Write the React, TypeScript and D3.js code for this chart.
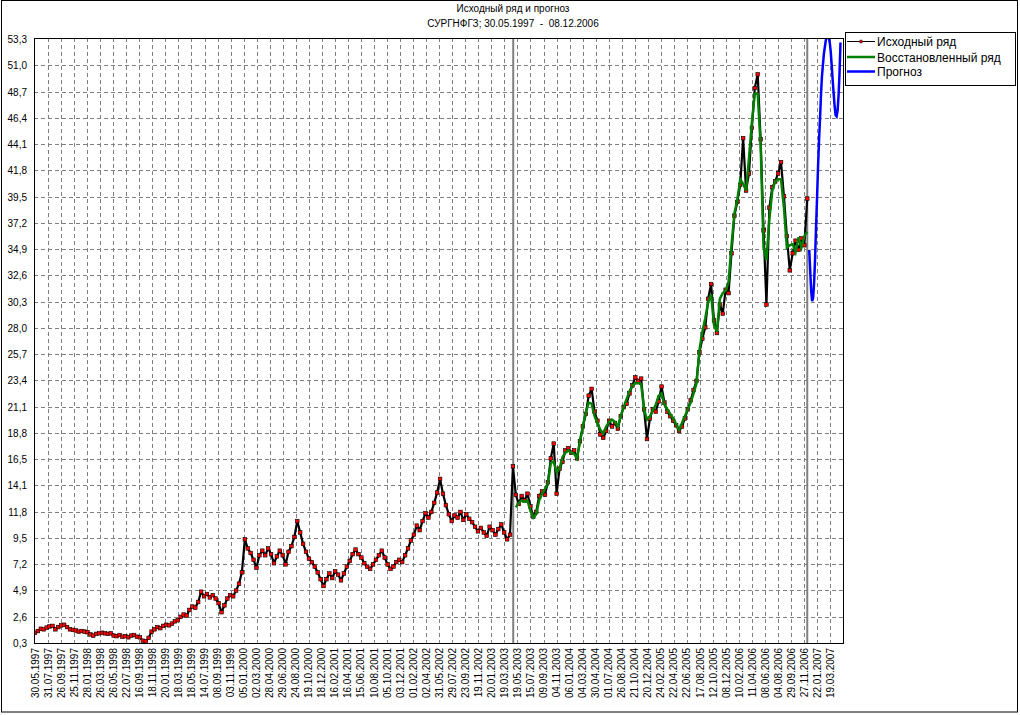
import React from 'react';
import * as d3 from 'd3';

const TITLE = 'Исходный ряд и прогноз';
const SUBTITLE = 'СУРГНФГЗ; 30.05.1997  -  08.12.2006';
const SERIES_NAMES = ['Исходный ряд', 'Восстановленный ряд', 'Прогноз'];

const Y_MIN = 0.3;
const Y_MAX = 53.3;
const Y_TICK_LABELS = ['0,3', '2,6', '4,9', '7,2', '9,5', '11,8', '14,1', '16,5', '18,8', '21,1', '23,4', '25,7',
  '28,0', '30,3', '32,6', '34,9', '37,2', '39,5', '41,8', '44,1', '46,4', '48,7', '51,0', '53,3'];

const TICK_STEP_DAYS = 40;
const X_TICK_LABELS = [
  '30.05.1997', '31.07.1997', '26.09.1997', '25.11.1997', '28.01.1998', '26.03.1998', '26.05.1998', '22.07.1998',
  '16.09.1998', '18.11.1998', '20.01.1999', '18.03.1999', '18.05.1999', '14.07.1999', '08.09.1999', '03.11.1999',
  '05.01.2000', '02.03.2000', '28.04.2000', '29.06.2000', '24.08.2000', '19.10.2000', '18.12.2000', '16.02.2001',
  '16.04.2001', '15.06.2001', '10.08.2001', '05.10.2001', '03.12.2001', '01.02.2002', '02.04.2002', '31.05.2002',
  '29.07.2002', '23.09.2002', '19.11.2002', '20.01.2003', '19.03.2003', '19.05.2003', '15.07.2003', '09.09.2003',
  '04.11.2003', '06.01.2004', '04.03.2004', '30.04.2004', '01.07.2004', '26.08.2004', '21.10.2004', '20.12.2004',
  '24.02.2005', '22.04.2005', '22.06.2005', '17.08.2005', '12.10.2005', '08.12.2005', '10.02.2006', '11.04.2006',
  '08.06.2006', '04.08.2006', '29.09.2006', '27.11.2006', '22.01.2007', '19.03.2007'];

// trading-day index of the last observation (08.12.2006) and of the reconstruction window start
const LAST_DAY = 2369;
const WINDOW_START_DAY = 1467;
const RECON_OFFSET = 165; // index in ORIGINAL where the reconstructed series begins
const FORECAST_START_DAY = 2375;
const FORECAST_STEP = 3;

// original series, evenly spaced readings over days 0..LAST_DAY
const ORIGINAL = [
  1.2, 1.35, 1.55, 1.5, 1.65, 1.75, 1.8, 1.5, 1.7, 1.85,
  1.9, 1.7, 1.5, 1.45, 1.4, 1.3, 1.35, 1.3, 1.25, 1.05,
  0.95, 1.1, 1.15, 1.2, 1.15, 1.1, 1.15, 0.95, 0.9, 1.0,
  0.85, 0.9, 0.8, 0.95, 1.0, 0.85, 0.8, 0.5, 0.45, 0.75,
  1.3, 1.5, 1.7, 1.6, 1.8, 1.9, 1.85, 2.0, 2.2, 2.3,
  2.6, 2.8, 2.7, 3.2, 3.5, 3.4, 3.9, 4.8, 4.4, 4.6,
  4.3, 4.5, 4.2, 3.8, 3.0, 3.6, 4.2, 4.5, 4.4, 4.9,
  5.5, 6.5, 9.4, 8.6, 8.2, 7.6, 6.9, 8.0, 8.4, 8.0,
  8.6, 8.1, 7.3, 7.9, 8.4, 8.0, 7.2, 8.3, 8.8, 9.6,
  11.0, 10.0, 9.0, 8.3, 7.7, 7.4, 7.0, 6.5, 5.9, 5.3,
  5.9, 6.4, 6.0, 6.6, 6.3, 5.8, 6.4, 7.0, 7.5, 8.1,
  8.5, 8.1, 7.8, 7.3, 7.0, 6.8, 7.2, 7.6, 8.0, 8.4,
  7.8, 7.2, 6.8, 7.0, 7.4, 7.6, 7.4, 8.0, 8.6, 9.3,
  9.8, 10.6, 10.2, 11.0, 11.7, 11.3, 11.8, 12.6, 13.5, 14.7,
  13.4, 12.4, 11.6, 11.0, 11.5, 11.3, 11.8, 11.1, 11.6, 11.2,
  10.9, 10.5, 10.1, 10.4, 10.0, 9.7, 10.5, 10.2, 9.8, 10.3,
  10.7, 10.0, 9.4, 9.8, 15.8, 13.3, 12.5, 13.2, 12.8, 13.4,
  12.3, 11.4, 11.8, 13.2, 13.6, 13.3, 14.4, 16.5, 17.8, 13.4,
  15.6, 16.2, 17.2, 17.4, 17.0, 17.2, 16.5, 18.0, 19.3, 20.4,
  22.0, 22.6, 20.6, 19.8, 18.6, 18.3, 18.9, 19.8, 19.3, 19.6,
  19.1, 20.2, 21.0, 21.3, 22.2, 22.9, 23.6, 23.3, 23.5, 20.8,
  18.2, 20.0, 20.8, 20.6, 21.5, 22.8, 21.4, 20.6, 20.2, 19.8,
  19.4, 18.9, 19.3, 20.0, 20.8, 21.6, 22.5, 23.3, 25.8, 27.0,
  28.0, 30.5, 31.8, 28.6, 27.5, 30.0, 29.2, 31.3, 31.0, 34.5,
  37.8, 39.0, 40.5, 44.6, 40.0, 41.5, 45.5, 49.0, 50.2, 44.5,
  36.5, 30.0, 38.5, 40.3, 40.8, 41.5, 42.5, 39.5, 36.0, 33.0,
  34.5, 35.6, 34.8, 35.8, 35.2, 39.3];

const RECON = [
  12.2, 12.6, 12.8, 12.7, 12.8, 11.9, 11.3, 11.6, 12.8, 13.4,
  13.8, 14.3, 16.1, 16.2, 15.3, 15.6, 16.6, 17.0, 17.2, 17.0,
  16.9, 16.5, 18.0, 19.3, 20.5, 21.4, 21.3, 20.2, 19.6, 19.0,
  18.7, 19.3, 19.7, 19.9, 19.7, 19.3, 20.2, 21.0, 21.7, 22.4,
  22.9, 23.1, 23.1, 23.0, 20.8, 19.9, 20.2, 20.7, 21.2, 22.0,
  22.2, 21.2, 20.8, 20.4, 20.0, 19.5, 19.0, 19.6, 20.2, 20.8,
  21.4, 22.2, 23.1, 26.0, 27.6, 28.8, 30.2, 30.9, 28.2, 27.6,
  30.5, 31.0, 31.2, 32.0, 35.2, 38.0, 39.2, 41.0, 40.6, 40.0,
  42.8, 46.0, 48.5, 48.5, 44.0, 35.0, 33.9, 37.5, 40.0, 40.8,
  41.0, 41.0, 38.5, 35.0, 35.2, 35.3, 34.6, 35.9, 35.0, 36.0,
  36.4];

const FORECAST = [
  34.8, 33.0, 31.2, 30.3, 30.6, 31.9, 34.0, 36.8, 39.3, 42.0,
  44.3, 46.2, 48.3, 50.0, 51.0, 52.0, 52.6, 53.2, 53.5, 53.6,
  53.4, 53.0, 52.2, 51.0, 49.7, 48.5, 47.4, 46.6, 46.5, 47.0,
  48.3, 50.3, 53.0];

const FONT = '"Liberation Sans", Arial, sans-serif';

export default function App() {
  const W = 1020, H = 715;
  const L = 34, R = 843, T = 38, B = 643;
  const nTicks = X_TICK_LABELS.length;
  const x = d3.scaleLinear().domain([0, TICK_STEP_DAYS * (nTicks - 1)]).range([35, 830.4]);
  const y = d3.scaleLinear().domain([Y_MIN, Y_MAX]).range([643, 39]);
  const yTickVals = d3.range(Y_TICK_LABELS.length).map(k => Y_MIN + k * (Y_MAX - Y_MIN) / (Y_TICK_LABELS.length - 1));
  const xTickDays = d3.range(nTicks).map(k => k * TICK_STEP_DAYS);

  const origPts: [number, number][] = ORIGINAL.map((v, i) => [i * LAST_DAY / (ORIGINAL.length - 1), v]);
  const reconPts: [number, number][] = RECON.map((v, j) => [origPts[RECON_OFFSET + j][0], v]);
  const fcPts: [number, number][] = FORECAST.map((v, k) => [FORECAST_START_DAY + k * FORECAST_STEP, v]);
  const line = d3.line<[number, number]>().x(d => x(d[0])).y(d => y(d[1]));

  return (
    <div style={{ position: 'absolute', left: 0, top: 0 }}>
      <svg width={W} height={H} style={{ display: 'block', background: '#fff' }} fontFamily={FONT}>
        <defs>
          <clipPath id="plotclip">
            <rect x={L} y={T} width={R - L} height={B - T} />
          </clipPath>
        </defs>
        <rect x={0} y={0} width={W} height={H} fill="#fff" />
        <rect x={1.5} y={0.5} width={1016} height={711.5} fill="none" stroke="#000" strokeWidth={1} />
        <text x={513} y={12} textAnchor="middle" fontSize={10} fill="#000">{TITLE}</text>
        <text x={513} y={27} textAnchor="middle" fontSize={10} fill="#000" style={{ whiteSpace: 'pre' }}>{SUBTITLE}</text>

        {/* grid */}
        <g stroke="#808080" strokeWidth={1} strokeDasharray="4,3">
          {yTickVals.slice(1, -1).map((v, i) => (
            <line key={'h' + i} x1={L} x2={R} y1={Math.round(y(v)) + 0.5} y2={Math.round(y(v)) + 0.5} />
          ))}
          {xTickDays.slice(1).map((d, i) => (
            <line key={'v' + i} x1={Math.round(x(d)) + 0.5} x2={Math.round(x(d)) + 0.5} y1={T} y2={B} />
          ))}
        </g>

        {/* y labels */}
        {yTickVals.map((v, i) => (
          <text key={'yl' + i} x={27} y={y(v) + 4} textAnchor="end" fontSize={10} fill="#000">{Y_TICK_LABELS[i]}</text>
        ))}
        {/* x labels */}
        {xTickDays.map((d, i) => (
          <text key={'xl' + i} transform={`translate(${x(d) + 3.5},648) rotate(-90)`} textAnchor="end" fontSize={10} fill="#000">
            {X_TICK_LABELS[i]}
          </text>
        ))}

        {/* window markers */}
        <g stroke="#808080" strokeWidth={2}>
          <line x1={x(WINDOW_START_DAY)} x2={x(WINDOW_START_DAY)} y1={T} y2={B} />
          <line x1={x(LAST_DAY)} x2={x(LAST_DAY)} y1={T} y2={B} />
        </g>

        <g clipPath="url(#plotclip)">
          <path d={line(origPts) || ''} fill="none" stroke="#000" strokeWidth={2.2} strokeLinejoin="round" />
          {origPts.map((p, i) => (
            <rect key={'m' + i} x={x(p[0]) - 1.8} y={y(p[1]) - 1.8} width={3.6} height={3.6} fill="#ff0000" stroke="#000" strokeWidth={0.6} />
          ))}
          <path d={line(reconPts) || ''} fill="none" stroke="#008000" strokeWidth={2.5} />
          <path d={line(fcPts) || ''} fill="none" stroke="#0000ff" strokeWidth={2.5} />
        </g>

        <rect x={L + 0.5} y={T + 0.5} width={R - L} height={B - T} fill="none" stroke="#000" strokeWidth={1} />

        {/* legend */}
        <rect x={845.5} y={32.5} width={170} height={53} fill="#fff" stroke="#000" strokeWidth={1} />
        <line x1={847} x2={875} y1={41.5} y2={41.5} stroke="#000" strokeWidth={1} />
        <circle cx={861} cy={41.5} r={1.5} fill="#ff0000" stroke="#000" strokeWidth={0.6} />
        <line x1={847} x2={875} y1={57} y2={57} stroke="#008000" strokeWidth={2.5} />
        <line x1={847} x2={875} y1={71.5} y2={71.5} stroke="#0000ff" strokeWidth={2.5} />
        {SERIES_NAMES.map((n, i) => (
          <text key={'lg' + i} x={877} y={[41.5, 57, 71.5][i] + 4.5} fontSize={12} fill="#000">{n}</text>
        ))}
      </svg>
    </div>
  );
}
